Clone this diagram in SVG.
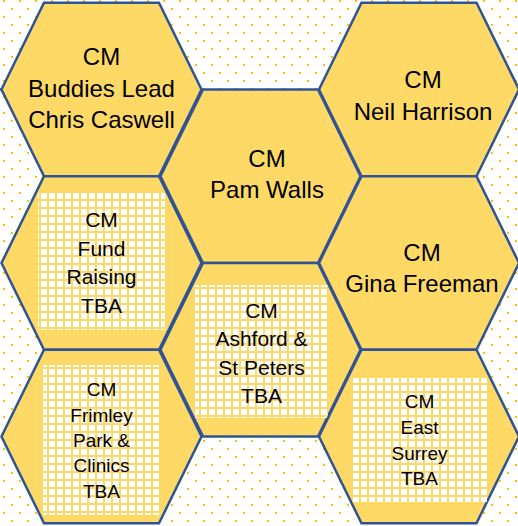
<svg xmlns="http://www.w3.org/2000/svg" xmlns:xlink="http://www.w3.org/1999/xlink" width="518" height="526" viewBox="0 0 518 526">
  <style>
    .hex { fill: #FFD966; stroke: #2F5496; stroke-width: 2.5; stroke-linejoin: miter; }
    .grid { fill: url(#cells); }
    .lbl { font-family: "Liberation Sans", Arial, sans-serif; fill: #000; text-anchor: middle; }
    .big { font-size: 24px; }
    .mid { font-size: 21px; }
    .sml { font-size: 19px; }
    .stub { stroke: #2F5496; stroke-width: 2.5; fill: none; }
  </style>
  <defs>
    <!-- scattered dot texture on the page -->
    <pattern id="dots" patternUnits="userSpaceOnUse" width="16" height="16">
      <rect x="3" y="0" width="2" height="2" fill="#FFC000"/>
      <rect x="11" y="8" width="2" height="2" fill="#FFC000"/>
    </pattern>
    <!-- large grid texture: white cells on gold -->
    <pattern id="cells" patternUnits="userSpaceOnUse" width="8" height="8">
      <rect x="0" y="0" width="8" height="8" fill="#FFD966"/>
      <rect x="1" y="1" width="6" height="6" fill="#FFFFFF"/>
    </pattern>
    <!-- flat-topped hexagon centred on the origin -->
    <polygon id="hex" points="-57.5,-86.75 57.5,-86.75 100,0 57.5,86.75 -57.5,86.75 -100,0"/>
  </defs>

  <rect width="518" height="526" fill="#FFFFFF"/>
  <rect width="518" height="526" fill="url(#dots)"/>

  <g id="connectors">
    <line class="stub" x1="0" y1="89.5" x2="10" y2="89.5"/>
  </g>

  <g id="node-buddies">
    <use xlink:href="#hex" class="hex" x="101.5" y="89.5"/>
    <text class="lbl big" x="101.5" y="65">CM</text>
    <text class="lbl big" x="101.5" y="97">Buddies Lead</text>
    <text class="lbl big" x="101.5" y="128">Chris Caswell</text>
  </g>

  <g id="node-fundraising">
    <use xlink:href="#hex" class="hex" x="101.5" y="263"/>
    <rect class="grid" x="38" y="193" width="127" height="137"/>
    <text class="lbl mid" x="101.5" y="227">CM</text>
    <text class="lbl mid" x="101.5" y="255.5">Fund</text>
    <text class="lbl mid" x="101.5" y="284">Raising</text>
    <text class="lbl mid" x="101.5" y="312.5">TBA</text>
  </g>

  <g id="node-frimley">
    <use xlink:href="#hex" class="hex" x="101.5" y="436.5"/>
    <rect class="grid" x="43" y="365" width="116" height="150"/>
    <text class="lbl sml" x="101.5" y="396">CM</text>
    <text class="lbl sml" x="101.5" y="421.5">Frimley</text>
    <text class="lbl sml" x="101.5" y="447">Park &amp;</text>
    <text class="lbl sml" x="101.5" y="472">Clinics</text>
    <text class="lbl sml" x="101.5" y="497.5">TBA</text>
  </g>

  <g id="node-pam">
    <use xlink:href="#hex" class="hex" x="260.5" y="176.25"/>
    <text class="lbl big" x="267" y="167">CM</text>
    <text class="lbl big" x="267" y="198">Pam Walls</text>
  </g>

  <g id="node-ashford">
    <use xlink:href="#hex" class="hex" x="260.5" y="349.75"/>
    <rect class="grid" x="195" y="285" width="133" height="133"/>
    <text class="lbl mid" x="261.5" y="318">CM</text>
    <text class="lbl mid" x="261.5" y="346">Ashford &amp;</text>
    <text class="lbl mid" x="261.5" y="375">St Peters</text>
    <text class="lbl mid" x="261.5" y="403">TBA</text>
  </g>

  <g id="node-neil">
    <use xlink:href="#hex" class="hex" x="419" y="89.5"/>
    <text class="lbl big" x="423" y="88">CM</text>
    <text class="lbl big" x="423" y="120">Neil Harrison</text>
  </g>

  <g id="node-gina">
    <use xlink:href="#hex" class="hex" x="419" y="263"/>
    <text class="lbl big" x="422" y="261">CM</text>
    <text class="lbl big" x="422" y="292">Gina Freeman</text>
  </g>

  <g id="node-eastsurrey">
    <use xlink:href="#hex" class="hex" x="419" y="436.5"/>
    <rect class="grid" x="352" y="378" width="135" height="124"/>
    <text class="lbl sml" x="419.5" y="408">CM</text>
    <text class="lbl sml" x="419.5" y="434">East</text>
    <text class="lbl sml" x="419.5" y="460">Surrey</text>
    <text class="lbl sml" x="419.5" y="485">TBA</text>
  </g>
</svg>
